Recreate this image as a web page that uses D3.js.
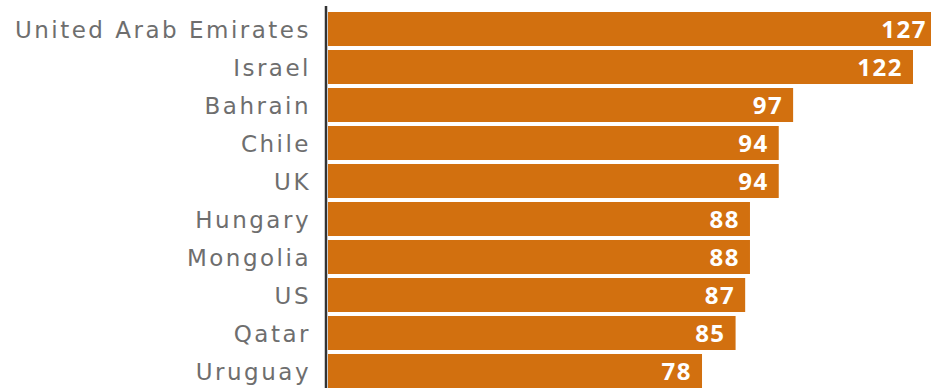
<html>
  <head>
    <meta charset="utf-8">
    <script src="https://d3js.org/d3.v7.min.js"></script>
    <style>
      body { margin: 0; background: #fff; }
    </style>
  </head>
  <body>
    <div id="chart"></div>
  </body>
  <script>
    const W = 931, H = 388

    // data
    const countries = ["United Arab Emirates", "Israel", "Bahrain", "Chile", "UK",
                       "Hungary", "Mongolia", "US", "Qatar", "Uruguay"]
    const doses = [127, 122, 97, 94, 94, 88, 88, 87, 85, 78]

    const rows = countries.map((c, i) => ({ name: c, value: doses[i] }))

    const x0 = 328          // where bars start
    const svg = d3.select("#chart").append("svg")
      .attr("width", W).attr("height", H)

    const x = d3.scaleLinear().domain([0, 122]).range([x0, 913])
    const y = d3.scaleBand().domain(countries).range([12, 388]).paddingInner(0.105).paddingOuter(0)

    svg.selectAll("rect.bar")
      .data(rows)
      .join("rect")
        .attr("class", "bar")
        .attr("x", x(0))
        .attr("y", d => y(d.name))
        .attr("width", d => x(d.value) - x(0))
        .attr("height", y.bandwidth())
        .attr("fill", "#d2700f")

    // value labels inside the bar ends
    svg.selectAll("text.val")
      .data(rows)
      .join("text")
        .attr("class", "val")
        .attr("x", d => x(d.value) - 10)
        .attr("y", d => y(d.name) + y.bandwidth() / 2)
        .attr("dy", "0.36em")
        .attr("text-anchor", "end")
        .attr("font-family", "Open Sans")
        .attr("font-weight", "bold")
        .attr("font-size", "24px")
        .attr("letter-spacing", "1.5px")
        .attr("fill", "#fff")
        .text(d => d.value)

    // country labels
    svg.selectAll("text.lab")
      .data(rows)
      .join("text")
        .attr("class", "lab")
        .attr("x", 311)
        .attr("y", d => y(d.name) + y.bandwidth() / 2)
        .attr("dy", "0.37em")
        .attr("text-anchor", "end")
        .attr("font-family", "DejaVu Sans")
        .attr("font-size", "23px")
        .attr("letter-spacing", "2.5px")
        .attr("fill", "#6e6e6e")
        .text(d => d.name)

    // baseline
    svg.append("line")
      .attr("x1", 326).attr("x2", 326)
      .attr("y1", 6).attr("y2", H)
      .attr("stroke", "#333")
      .attr("stroke-width", 2.5)
  </script>
</html>
